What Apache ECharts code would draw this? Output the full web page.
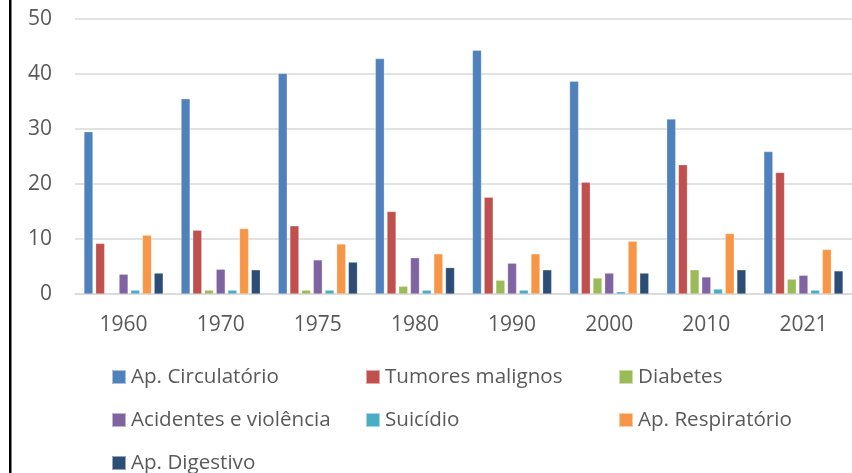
<!DOCTYPE html>
<html>
<head>
<meta charset="utf-8">
<script src="https://cdn.jsdelivr.net/npm/echarts@6/dist/echarts.min.js"></script>
<style>
  html, body { margin: 0; padding: 0; background: #fff; }
  #chart { width: 852px; height: 473px; }
</style>
</head>
<body>
<div id="chart"></div>
<script>
// Mortality by cause of death, per year
const years = ['1960', '1970', '1975', '1980', '1990', '2000', '2010', '2021'];

const circulatorio = [29.5, 35.5, 40.1, 42.8, 44.3, 38.7, 31.8, 25.9];
const tumores      = [9.2, 11.6, 12.4, 15.0, 17.6, 20.3, 23.5, 22.1];
const diabetes     = [null, 0.7, 0.7, 1.4, 2.5, 2.9, 4.4, 2.7];
const acidentes    = [3.6, 4.5, 6.2, 6.6, 5.6, 3.8, 3.1, 3.4];
const suicidio     = [0.7, 0.7, 0.7, 0.7, 0.7, 0.4, 0.9, 0.7];
const respiratorio = [10.7, 11.9, 9.1, 7.3, 7.3, 9.6, 11.0, 8.1];
const digestivo    = [3.8, 4.4, 5.8, 4.8, 4.4, 3.8, 4.4, 4.2];

const seriesNames = ['Ap. Circulatório', 'Tumores malignos', 'Diabetes',
  'Acidentes e violência', 'Suicídio', 'Ap. Respiratório', 'Ap. Digestivo'];
const seriesData = [circulatorio, tumores, diabetes, acidentes, suicidio, respiratorio, digestivo];
const colors = ['#4F81BD', '#C0504D', '#9BBB59', '#8064A2', '#4BACC6', '#F79646', '#2C4D75'];

const FONT = 'Open Sans';
const TEXT = '#595959';

// Legend laid out as a 3-column grid
const legendSlots = [
  [111, 377], [365, 377], [618, 377],
  [111, 420], [365, 420], [618, 420],
  [111, 463]
];
const legends = seriesNames.map((name, i) => ({
  data: [name],
  left: legendSlots[i][0],
  top: legendSlots[i][1] - 12,
  padding: 0,
  icon: 'rect',
  itemWidth: 14,
  itemHeight: 14,
  itemGap: 0,
  selectedMode: false,
  textStyle: { color: TEXT, fontFamily: FONT, fontSize: 20.6, lineHeight: 24 }
}));

const chart = echarts.init(document.getElementById('chart'));
chart.setOption({
  animation: false,
  color: colors,
  legend: legends,
  grid: { left: 75, top: 19, width: 790, height: 275, containLabel: false },
  xAxis: {
    type: 'category',
    data: years,
    axisTick: { show: false },
    axisLine: { lineStyle: { color: '#D9D9D9', width: 1.5 } },
    axisLabel: { color: TEXT, fontFamily: FONT, fontSize: 21, margin: 21 }
  },
  yAxis: {
    type: 'value',
    min: 0, max: 50, interval: 10,
    axisLine: { show: false },
    axisTick: { show: false },
    splitLine: { lineStyle: { color: '#D9D9D9', width: 1.5 } },
    axisLabel: { color: TEXT, fontFamily: FONT, fontSize: 21, margin: 23 }
  },
  series: seriesNames.map((name, i) => ({
    name: name,
    type: 'bar',
    data: seriesData[i],
    barWidth: 9,
    barGap: '30%',
    itemStyle: { color: colors[i], borderColor: 'rgba(255,255,255,0.5)', borderWidth: 0.5 }
  })),
  graphic: [{
    type: 'rect',
    shape: { x: 9, y: 0, width: 2.5, height: 473 },
    style: { fill: '#000' },
    silent: true
  }]
});
</script>
</body>
</html>
